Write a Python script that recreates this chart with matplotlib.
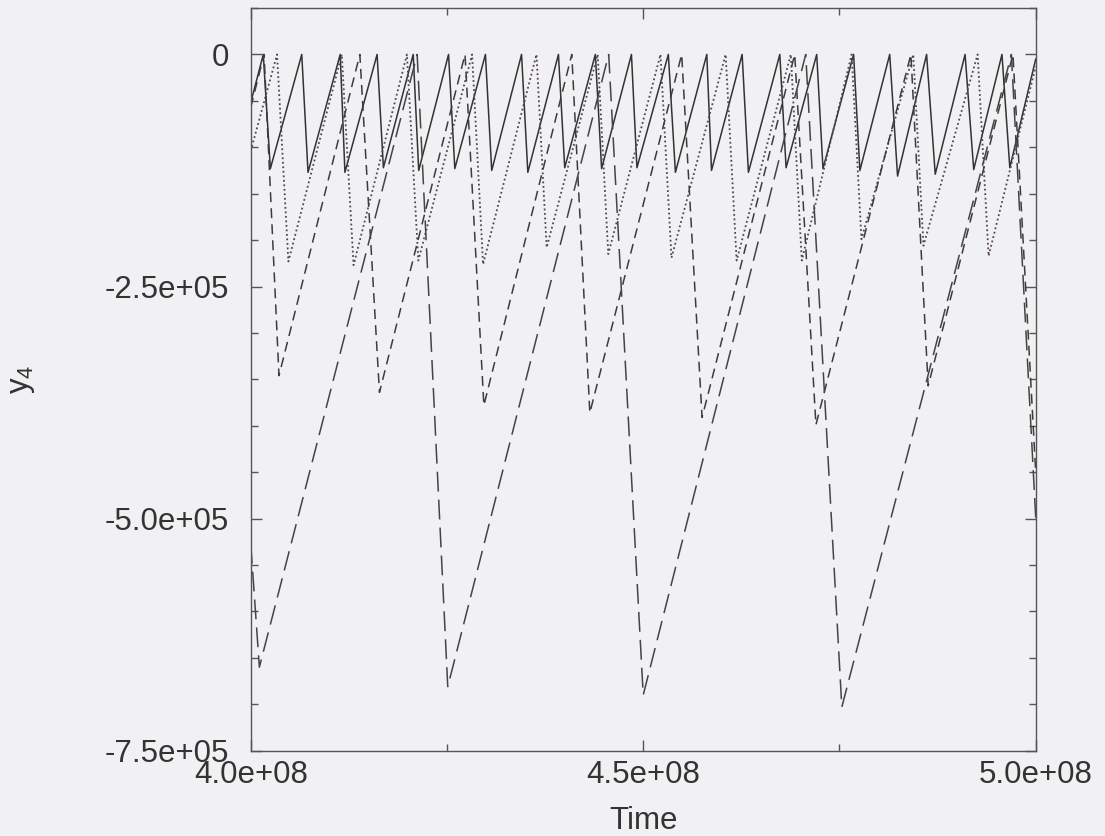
import numpy as np
import matplotlib
matplotlib.use('Agg')
import matplotlib.pyplot as plt
from matplotlib.ticker import MultipleLocator

plt.rcParams['font.family'] = ['Liberation Sans', 'DejaVu Sans']
plt.rcParams['mathtext.fontset'] = 'custom'
plt.rcParams['mathtext.rm'] = 'Liberation Sans'

# turning points of each trace, time given in units of 1e6
solid_t = [400.0, 401.6, 402.5, 406.5, 407.3, 411.4, 412.0, 416.1, 416.9, 420.7, 421.4,
           425.2, 426.0, 429.9, 430.7, 434.5, 435.3, 439.2, 440.0, 443.9, 444.7,
           448.5, 449.2, 453.2, 454.1, 458.1, 458.7, 462.6, 463.4, 467.4, 468.2,
           472.1, 472.9, 476.8, 477.6, 481.4, 482.4, 486.1, 487.2, 491.0, 492.1,
           495.7, 496.7, 500.0]
solid_y = [-52e3, 0, -123e3, 0, -127e3, 0, -127e3, 0, -122e3, 0, -125e3,
           0, -123e3, 0, -125e3, 0, -127e3, 0, -122e3, 0, -123e3,
           0, -122e3, 0, -127e3, 0, -125e3, 0, -127e3, 0, -122e3,
           0, -123e3, 0, -125e3, 0, -131e3, 0, -129e3, 0, -124e3,
           0, -122e3, -5e3]

dot_t = [400.0, 403.35, 404.8, 411.6, 413.1, 419.9, 421.35, 428.2, 429.6, 436.4, 437.7,
         444.2, 445.55, 452.2, 453.6, 460.5, 461.9, 468.8, 470.2, 476.55, 477.8,
         484.4, 485.7, 492.6, 494.0, 500.0]
dot_y = [-104e3, 0, -223e3, 0, -227e3, 0, -222e3, 0, -226e3, 0, -208e3,
         0, -215e3, 0, -219e3, 0, -222e3, 0, -222e3, 0, -199e3,
         0, -206e3, 0, -217e3, -13e3]

sdash_t = [400.0, 401.7, 403.6, 413.9, 416.4, 427.3, 429.7, 440.9, 443.2,
           454.9, 457.5, 469.3, 472.0, 484.1, 486.3, 497.1, 500.0]
sdash_y = [-57e3, 0, -346e3, 0, -364e3, 0, -378e3, 0, -386e3,
           0, -391e3, 0, -399e3, 0, -357e3, 0, -450e3]

ldash_t = [400.0, 401.1, 421.2, 425.1, 445.6, 450.0, 470.7, 475.3, 496.9, 500.0]
ldash_y = [-527e3, -660e3, 0, -681e3, 0, -690e3, 0, -703e3, 0, -499e3]

x_ticks = [4.0e8, 4.5e8, 5.0e8]
x_labels = ['4.0e+08', '4.5e+08', '5.0e+08']
y_ticks = [0, -2.5e5, -5.0e5, -7.5e5]
y_labels = ['0', '-2.5e+05', '-5.0e+05', '-7.5e+05']

bg = '#f1f1f3'
ink = '#333333'

fig = plt.figure(figsize=(11.05, 8.36), dpi=100, facecolor=bg)
ax = fig.add_axes([0.2269, 0.1020, 0.7104, 0.8884], facecolor=bg)

ax.plot(np.array(solid_t) * 1e6, solid_y, color='#333333', lw=1.1, ls='-')
ax.plot(np.array(dot_t) * 1e6, dot_y, color='#554352', lw=1.3, ls=(0, (1, 1.5)))
ax.plot(np.array(sdash_t) * 1e6, sdash_y, color='#3c3c3c', lw=1.1, ls=(0, (6.5, 4)))
ax.plot(np.array(ldash_t) * 1e6, ldash_y, color='#444444', lw=1.1, ls=(0, (13, 5.3)))

ax.set_xlim(4.0e8, 5.0e8)
ax.set_ylim(-7.5e5, 5e4)
ax.set_xticks(x_ticks, x_labels)
ax.set_yticks(y_ticks, y_labels)
ax.xaxis.set_minor_locator(MultipleLocator(2.5e7))
ax.yaxis.set_minor_locator(MultipleLocator(5e4))
ax.tick_params(which='both', direction='in', top=True, right=True,
               color='#555555', labelcolor=ink, labelsize=22.5)
ax.tick_params(which='major', length=8, width=1.0)
ax.tick_params(which='minor', length=5, width=1.0)
ax.tick_params(axis='x', which='major', pad=6.5)
ax.tick_params(axis='y', which='major', pad=15.5)
for s in ax.spines.values():
    s.set_color('#555555')
    s.set_linewidth(1.0)

ax.set_xlabel('Time', fontsize=22.5, color=ink)
ax.xaxis.set_label_coords(0.5, -0.075)
ax.set_ylabel(r'$\mathregular{y_4}$', fontsize=22.5, color=ink)
ax.yaxis.set_label_coords(-0.272, 0.5)

fig.savefig('out.png', dpi=100, facecolor=bg)
